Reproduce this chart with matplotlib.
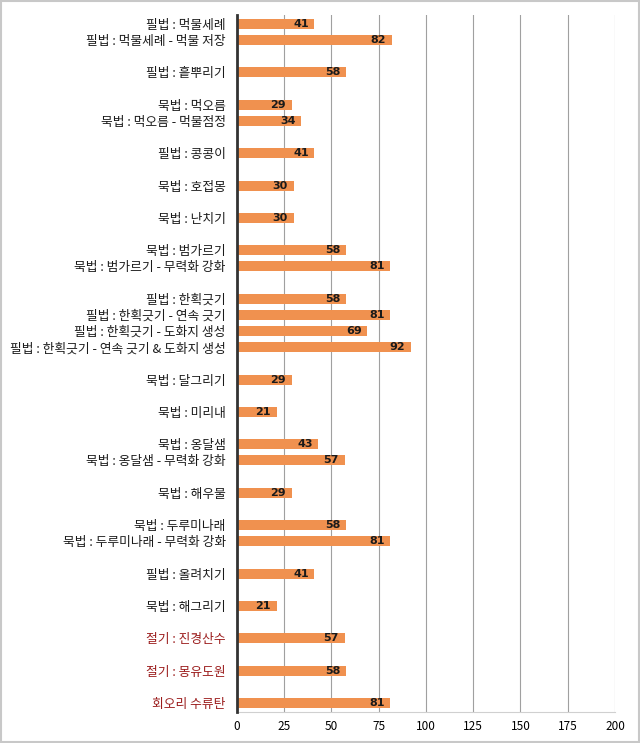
import matplotlib
matplotlib.use("Agg")
import matplotlib.pyplot as plt
from matplotlib.patches import Rectangle
import numpy as np

plt.rcParams['font.family'] = ['Noto Sans CJK KR', 'DejaVu Sans']

# "" rows are the blank gaps between skill groups
labels = [
    "필법 : 먹물세례", "필법 : 먹물세례 - 먹물 저장", "",
    "필법 : 흩뿌리기", "",
    "묵법 : 먹오름", "묵법 : 먹오름 - 먹물점정", "",
    "필법 : 콩콩이", "",
    "묵법 : 호접몽", "",
    "묵법 : 난치기", "",
    "묵법 : 범가르기", "묵법 : 범가르기 - 무력화 강화", "",
    "필법 : 한획긋기", "필법 : 한획긋기 - 연속 긋기", "필법 : 한획긋기 - 도화지 생성",
    "필법 : 한획긋기 - 연속 긋기 & 도화지 생성", "",
    "묵법 : 달그리기", "",
    "묵법 : 미리내", "",
    "묵법 : 옹달샘", "묵법 : 옹달샘 - 무력화 강화", "",
    "묵법 : 해우물", "",
    "묵법 : 두루미나래", "묵법 : 두루미나래 - 무력화 강화", "",
    "필법 : 올려치기", "",
    "묵법 : 해그리기", "",
    "절기 : 진경산수", "",
    "절기 : 몽유도원", "",
    "회오리 수류탄",
]
values = [
    41, 82, None,
    58, None,
    29, 34, None,
    41, None,
    30, None,
    30, None,
    58, 81, None,
    58, 81, 69,
    92, None,
    29, None,
    21, None,
    43, 57, None,
    29, None,
    58, 81, None,
    41, None,
    21, None,
    57, None,
    58, None,
    81,
]

fig = plt.figure(figsize=(6.4, 7.43), dpi=100)
ax = fig.add_axes([0.370, 0.0417, 0.591, 0.9383])

y = np.arange(len(labels))
vals = np.array([np.nan if v is None else v for v in values], dtype=float)
bars = ax.barh(y, np.nan_to_num(vals), height=0.62, color="#F0914F", zorder=3)

for yi, v in zip(y, vals):
    if np.isnan(v):
        continue
    ax.annotate(f"{int(v)}", xy=(v, yi), xytext=(-4, 0), textcoords="offset points",
                ha="right", va="center", fontsize=8, fontweight="bold",
                color="#1a1a1a", family=['DejaVu Sans'], zorder=4)

ax.set_yticks(y)
ax.set_yticklabels(labels, fontsize=9.2)
for t, lab in zip(ax.get_yticklabels(), labels):
    if lab.startswith("절기") or lab.startswith("회오리"):
        t.set_color("#9B1C1C")
    else:
        t.set_color("#1a1a1a")
ax.tick_params(axis="y", length=0, pad=8)

ax.set_xlim(0, 200)
ax.set_xticks(np.arange(0, 201, 25))
ax.tick_params(axis="x", length=0, labelsize=8.5, pad=6)
ax.set_ylim(len(labels) - 1 + 0.56, -0.56)

ax.grid(axis="x", color="#a0a0a0", linewidth=0.8, zorder=0)
for s in ["top", "right"]:
    ax.spines[s].set_visible(False)
ax.spines["bottom"].set_color("#d0d0d0")
ax.spines["left"].set_color("#333333")
ax.spines["left"].set_linewidth(2)
ax.spines["left"].set_zorder(5)

fig.patches.append(Rectangle((0.002, 0.002), 0.996, 0.996, transform=fig.transFigure,
                             fill=False, edgecolor="#c8c8c8", linewidth=1.5))

fig.savefig("out.png", dpi=100)
